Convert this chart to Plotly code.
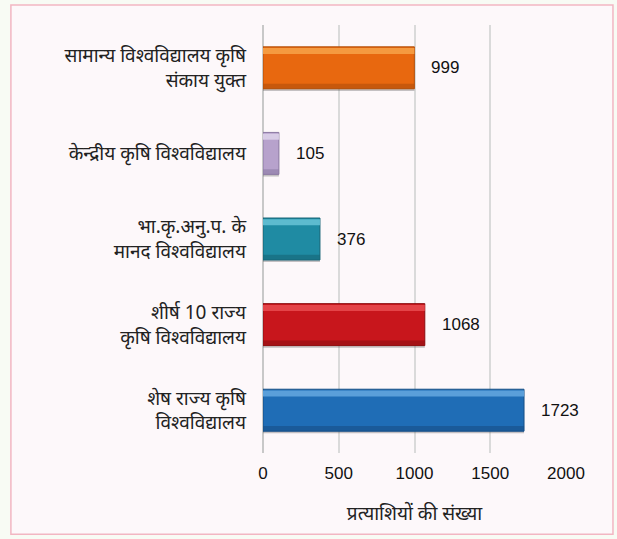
import plotly.graph_objects as go

categories = [
    "शेष राज्य कृषि<br>विश्वविद्यालय",
    "शीर्ष 10 राज्य<br>कृषि विश्वविद्यालय",
    "भा.कृ.अनु.प. के<br>मानद विश्वविद्यालय",
    "केन्द्रीय कृषि विश्वविद्यालय",
    "सामान्य विश्वविद्यालय कृषि<br>संकाय युक्त",
]
values = [1723, 1068, 376, 105, 999]
bar_colors = ["#1F6DB6", "#C8161C", "#1F8BA3", "#B7A2CC", "#E8680F"]
light_colors = ["#5A9FDA", "#E44448", "#5DBBCF", "#D8CCE6", "#F59A40"]
dark_colors = ["#174F86", "#8E1013", "#166577", "#8C7AA3", "#B14F0A"]
x_ticks = [0, 500, 1000, 1500, 2000]
x_title = "प्रत्याशियों की संख्या"

fig = go.Figure()
# shadow
fig.add_trace(go.Bar(y=categories, x=values, orientation="h", width=0.49, offset=-0.27,
                     marker=dict(color="rgba(90,90,90,0.35)", line_width=0),
                     hoverinfo="skip", showlegend=False))
# main bar
fig.add_trace(go.Bar(y=categories, x=values, orientation="h", width=0.49, offset=-0.245,
                     marker=dict(color=bar_colors, line=dict(color=dark_colors, width=1)),
                     showlegend=False))
# top highlight
fig.add_trace(go.Bar(y=categories, x=values, orientation="h", width=0.07, offset=0.16,
                     marker=dict(color=light_colors, line_width=0),
                     hoverinfo="skip", showlegend=False))
# bottom darker band
fig.add_trace(go.Bar(y=categories, x=values, orientation="h", width=0.06, offset=-0.245,
                     marker=dict(color=dark_colors, line_width=0, opacity=0.6),
                     hoverinfo="skip", showlegend=False))

annotations = [dict(x=v, y=c, xref="x", yref="y", text=str(v), showarrow=False,
                    xanchor="left", xshift=15,
                    font=dict(family="Liberation Sans, Arial", size=17, color="#111"))
               for c, v in zip(categories, values)]

fig.update_layout(
    barmode="overlay",
    width=617, height=539,
    margin=dict(l=263, r=51, t=25, b=86),
    paper_bgcolor="#F8FBF4",
    plot_bgcolor="rgba(0,0,0,0)",
    font=dict(family="Noto Sans, Liberation Sans, Arial", size=19, color="#222"),
    xaxis=dict(range=[0, 2000], tickvals=x_ticks, showgrid=True, gridcolor="#DADADA",
               gridwidth=1.5, zeroline=True, zerolinecolor="#C8C8C8", zerolinewidth=2,
               tickfont=dict(family="Liberation Sans, Arial", size=17, color="#111"),
               ticklen=0, automargin=False, ticklabelstandoff=8,
               title=dict(text=x_title, font=dict(size=19, color="#222"), standoff=24)),
    yaxis=dict(showgrid=False, ticklen=0, ticks="", automargin=False, ticklabelstandoff=16,
               tickfont=dict(size=19, color="#222"), range=[-0.5, 4.5]),
    annotations=annotations,
    shapes=[dict(type="rect", xref="paper", yref="paper", x0=-0.832, x1=1.155, y0=-0.19, y1=1.047,
                 line=dict(color="#F2B6C2", width=1.5), fillcolor="#FDF8FA", layer="below")],
)
fig.write_html("out.html", config={"displayModeBar": False},
               post_script="document.body.style.margin='0';")
